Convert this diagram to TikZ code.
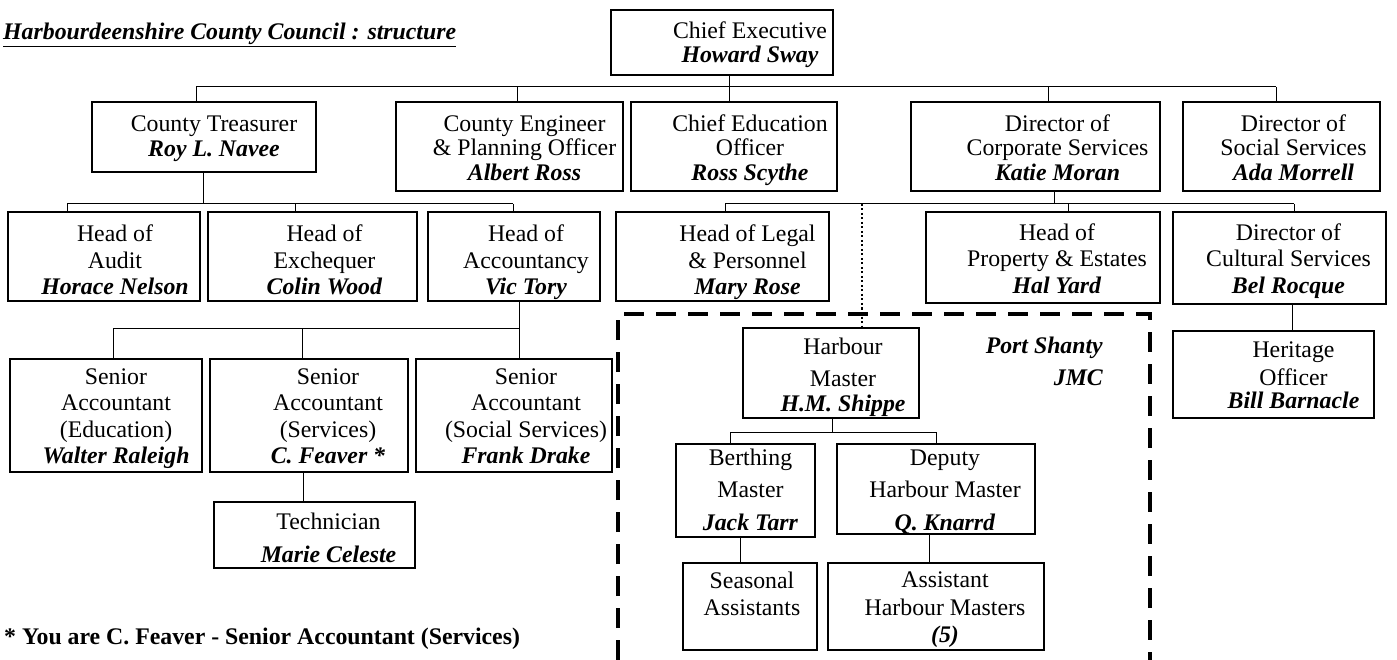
\documentclass[tikz,border=0pt]{standalone}
\usepackage{fontspec}
\setmainfont{Liberation Serif}
\usetikzlibrary{fit,calc}
\tikzset{
 box/.style={draw, line width=1.2pt, inner sep=0pt},
 txt/.style={align=center, inner sep=0pt},
 conn/.style={line width=1pt},
 dotconn/.style={line width=1.6pt, dash pattern=on 2pt off 2.5pt},
 jmcline/.style={line width=4pt, dash pattern=on 20pt off 12pt},
}
\newcommand\nm[1]{\textbf{\textit{#1}}}
% #1 name, #2 #3 corners, #4 x offset of text, #5 y of text centre, #6 baselineskip, #7 text
\newcommand\obox[7]{\node[box, fit={#2 #3}] (#1) {};
 \coordinate (#1-c) at ([xshift=#4pt]#1.center);
 \node[txt, font=\fontsize{23.8}{#6}\selectfont] (#1-t) at (#1-c |- 0,#5) {\rule{0pt}{17pt}#7\rule[-5.5pt]{0pt}{5.5pt}};}
\begin{document}
\begin{tikzpicture}[x=1pt,y=-1pt]
\useasboundingbox (0,0) rectangle (1397,660);
% title and note
\node[anchor=base west, inner sep=0pt, font=\fontsize{23.8}{27.5}\selectfont] (title) at (3,39.5) {\underline{\nm{Harbourdeenshire County Council : structure}}};
\node[anchor=base west, inner sep=0pt, font=\fontsize{23.8}{27.5}\selectfont] (note) at (4,644) {\textbf{* You are C. Feaver - Senior Accountant (Services)}};
% JMC boundary
\draw[jmcline] (618,660) -- (618,314) -- (1150,314) -- (1150,660);
\node[anchor=north east, align=right, inner sep=0pt, font=\fontsize{23.8}{32}\selectfont\bfseries\itshape] (jmc) at (1103,336) {\rule{0pt}{17pt}Port Shanty\\JMC};
% level 1
\obox{ce}{(611,10)}{(833,75)}{28}{45.25}{24}{Chief Executive\\\nm{Howard Sway}}
% level 2
\obox{tre}{(92,102)}{(316,172)}{10}{138.5}{25}{County Treasurer\\\nm{Roy L. Navee}}
\obox{eng}{(396,102)}{(623,191)}{15}{150.25}{24.5}{County Engineer\\\& Planning Officer\\\nm{Albert Ross}}
\obox{edu}{(631,102)}{(837,191)}{16}{150.25}{24.5}{Chief Education\\Officer\\\nm{Ross Scythe}}
\obox{cor}{(911,102)}{(1160,191)}{22}{150.25}{24.5}{Director of\\Corporate Services\\\nm{Katie Moran}}
\obox{soc}{(1183,102)}{(1380,191)}{12}{150.25}{24.5}{Director of\\Social Services\\\nm{Ada Morrell}}
% level 3
\obox{aud}{(8,212)}{(200,301)}{11}{262.3}{26.5}{Head of\\Audit\\\nm{Horace Nelson}}
\obox{exc}{(208,212)}{(417,301)}{12}{262.3}{26.5}{Head of\\Exchequer\\\nm{Colin Wood}}
\obox{acc}{(428,212)}{(600,301)}{12}{262.3}{26.5}{Head of\\Accountancy\\\nm{Vic Tory}}
\obox{leg}{(616,212)}{(829,301)}{25}{262.3}{26.5}{Head of Legal\\\& Personnel\\\nm{Mary Rose}}
\obox{pro}{(926,212)}{(1160,303)}{14}{261}{26.5}{Head of\\Property \& Estates\\\nm{Hal Yard}}
\obox{cul}{(1173,212)}{(1386,304)}{9}{261}{26.5}{Director of\\Cultural Services\\\nm{Bel Rocque}}
% level 4
\obox{sae}{(10,359)}{(202,472)}{10}{418.25}{26.3}{Senior\\Accountant\\(Education)\\\nm{Walter Raleigh}}
\obox{sas}{(210,359)}{(408,472)}{19}{418.25}{26.3}{Senior\\Accountant\\(Services)\\\nm{C. Feaver *}}
\obox{sass}{(416,359)}{(612,472)}{12}{418.25}{26.3}{Senior\\Accountant\\(Social Services)\\\nm{Frank Drake}}
\obox{tec}{(214,502)}{(415,568)}{14}{539.75}{33}{Technician\\\nm{Marie Celeste}}
% harbour
\obox{hm}{(743,328)}{(919,418)}{12}{376.9}{25}{Harbour\\[7pt]Master\\\nm{H.M. Shippe}}
\obox{ber}{(676,444)}{(815,537)}{5}{491.9}{32.5}{Berthing\\Master\\\nm{Jack Tarr}}
\obox{dep}{(837,444)}{(1035,534)}{9}{491.9}{32.5}{Deputy\\Harbour Master\\\nm{Q. Knarrd}}
\obox{sea}{(683,563)}{(817,650)}{2}{595.75}{27}{Seasonal\\Assistants}
\obox{ahm}{(828,563)}{(1044,650)}{9}{609.6}{27.5}{Assistant\\Harbour Masters\\\nm{(5)}}
\obox{her}{(1173,331)}{(1374,418)}{20}{377.6}{23}{Heritage\\[5pt]Officer\\\nm{Bill Barnacle}}
% connectors level 1-2
\draw[conn] (ce.south -| 729,0) -- (edu.north -| 729,0);
\coordinate (b1l) at (196,87);
\coordinate (b1r) at (1276,87);
\draw[conn] (b1l) -- (b1r);
\draw[conn] (b1l) -- (tre.north -| b1l);
\draw[conn] (517,87) -- (eng.north -| 517,0);
\draw[conn] (1048,87) -- (cor.north -| 1048,0);
\draw[conn] (b1r) -- (soc.north -| b1r);
% treasurer
\coordinate (b2l) at (67,204);
\coordinate (b2r) at (513,204);
\draw[conn] (tre.south -| 203,0) -- (203,204);
\draw[conn] (b2l) -- (b2r);
\draw[conn] (b2l) -- (aud.north -| b2l);
\draw[conn] (295,204) -- (exc.north -| 295,0);
\draw[conn] (b2r) -- (acc.north -| b2r);
% accountancy
\coordinate (b3l) at (113,328);
\coordinate (b3r) at (519,328);
\draw[conn] (acc.south -| b3r) -- (sass.north -| b3r);
\draw[conn] (b3l) -- (b3r);
\draw[conn] (b3l) -- (sae.north -| b3l);
\draw[conn] (302,328) -- (sas.north -| 302,0);
\draw[conn] (sas.south -| 303,0) -- (tec.north -| 303,0);
% corporate
\coordinate (b4l) at (725,204);
\coordinate (b4r) at (1294,204);
\draw[conn] (cor.south -| 1054,0) -- (1054,204);
\draw[conn] (b4l) -- (b4r);
\draw[conn] (b4l) -- (leg.north -| b4l);
\draw[conn] (1068,204) -- (pro.north -| 1068,0);
\draw[conn] (b4r) -- (cul.north -| b4r);
\draw[conn] (cul.south -| 1292,0) -- (her.north -| 1292,0);
\draw[dotconn] (862,204) -- (hm.north -| 862,0);
% harbour
\coordinate (b5l) at (730,432);
\coordinate (b5r) at (936,432);
\draw[conn] (hm.south -| 832,0) -- (832,432);
\draw[conn] (b5l) -- (b5r);
\draw[conn] (b5l) -- (ber.north -| b5l);
\draw[conn] (b5r) -- (dep.north -| b5r);
\draw[conn] (ber.south -| 740,0) -- (sea.north -| 740,0);
\draw[conn] (dep.south -| 929,0) -- (ahm.north -| 929,0);
\end{tikzpicture}
\end{document}
